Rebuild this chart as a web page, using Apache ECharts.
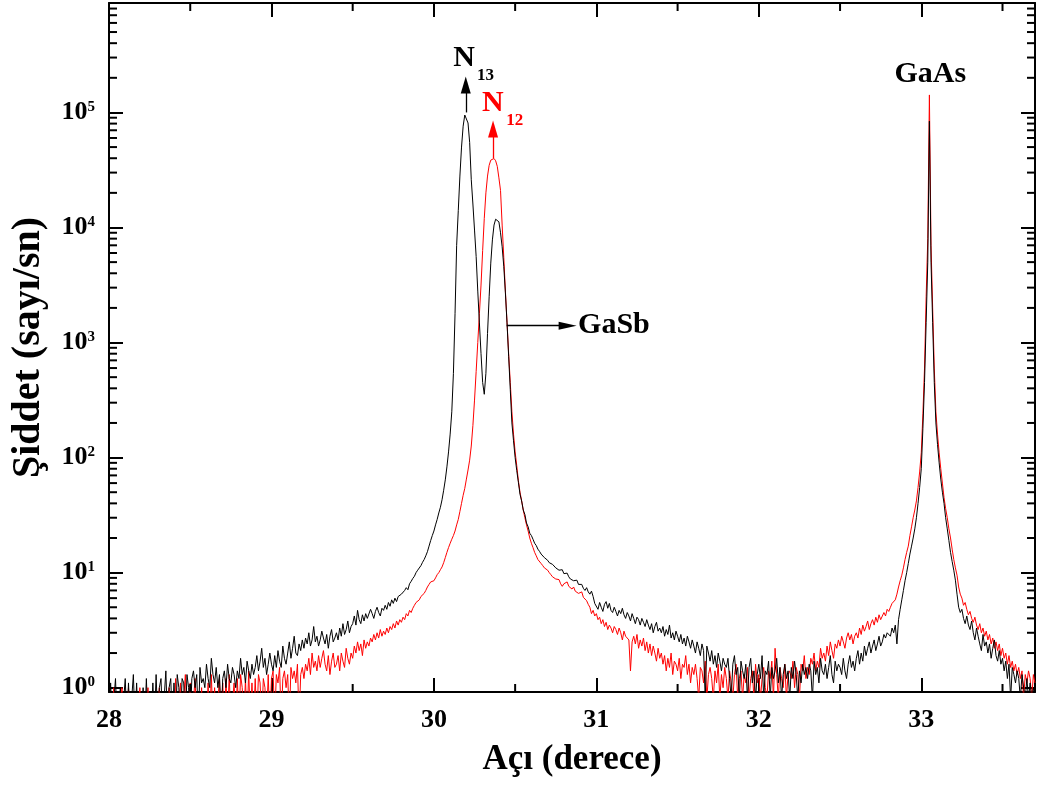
<!DOCTYPE html>
<html>
<head>
<meta charset="utf-8">
<script src="https://cdn.jsdelivr.net/npm/echarts@6/dist/echarts.min.js"></script>
<style>
html,body{margin:0;padding:0;background:#ffffff;}
#chart{width:1038px;height:787px;}
</style>
</head>
<body>
<div id="chart"></div>
<script>
// ---- data: angle grid (degrees) ----
const angleStart = 28.00;
const angleStep = 0.01;

// N13 sample (black), counts/s, one value per 0.01 deg from 28.00 to 33.70
const n13Counts = [
0.5,1.1,0.5,0.5,1.2,0.5,0.5,1.0,0.5,0.5,
1.2,0.5,1.1,0.5,0.5,1.3,0.5,1.1,0.5,0.5,
0.5,1.0,0.5,1.2,0.5,0.5,0.5,1.1,0.5,1.3,
0.5,1.0,1.2,0.5,0.5,1.4,0.5,1.0,1.2,0.5,
1.1,0.5,1.3,1.0,0.5,1.2,1.1,0.5,1.3,1.0,
0.5,1.2,1.4,1.0,1.3,0.5,1.5,1.1,1.2,1.0,
1.6,1.2,1.0,1.8,1.3,1.1,1.5,1.0,1.3,0.5,
1.2,1.4,1.0,1.6,1.2,1.1,1.5,1.3,1.0,1.4,
1.2,1.8,1.3,1.5,1.1,1.7,1.4,1.2,1.6,1.3,
1.5,1.9,1.4,1.7,2.2,1.5,1.8,1.3,1.6,2.0,
1.6,1.4,1.9,1.5,2.1,1.7,1.5,2.3,1.8,1.6,
2.0,2.5,1.8,2.2,2.8,2.0,1.9,2.4,2.1,2.6,
2.2,2.7,2.4,3.0,2.3,2.6,3.4,2.5,2.8,2.3,
2.6,3.1,2.7,2.4,2.9,2.2,2.8,3.2,2.5,2.7,
3.0,2.6,3.3,2.8,3.6,2.9,3.2,3.8,3.0,3.4,
3.6,4.2,3.5,4.7,3.9,3.6,4.3,3.8,4.4,4.0,
4.1,4.8,4.4,4.0,4.6,5.0,4.5,4.2,4.9,4.7,
5.2,4.8,5.5,5.1,5.8,5.4,6.0,5.6,6.2,6.0,
6.5,6.3,7.0,7.4,7.1,8.0,8.4,8.9,9.3,10.0,
10.5,10.8,11.5,12.3,13.0,14.0,15.2,17.0,19.0,21.0,
23,26,29,33,37,43,52,64,83,112,
160,250,540,1780,7000,14000,28000,50000,76000,95000,
98000,81000,55000,26000,16000,9500,5600,2800,1480,800,
450,355,540,1200,2500,4900,7800,10500,11800,12000,
11200,9000,6800,4600,2700,1480,760,390,200,140,
100,77,61,48,42,35,32,27,25,22,
21,19.5,18,17.2,16,15.3,14.5,14.2,13.5,13,
12.8,12.2,12.5,11.8,11.5,11.0,11.3,10.5,10.2,10.6,
9.8,9.5,9.9,9.2,8.8,9.1,8.5,8.2,8.6,7.9,
7.6,7.9,7.3,7.0,7.4,6.8,6.5,6.9,6.2,5.4,
5.2,4.8,5.5,5.0,4.6,5.3,5.6,4.9,5.4,4.7,
4.5,5.0,4.6,4.2,4.7,4.4,4.9,4.3,4.0,4.5,
4.2,3.8,4.4,4.0,3.6,4.1,3.9,3.5,4.0,3.7,
3.4,3.9,3.5,3.2,3.6,3.0,3.4,3.7,3.1,3.3,
3.0,3.4,2.8,3.2,2.9,3.5,2.7,3.0,2.6,3.1,
2.8,2.5,2.9,2.4,2.7,2.3,2.8,2.5,2.2,2.6,
2.3,2.0,2.5,2.2,1.9,2.4,2.1,0.8,2.3,2.0,
1.7,2.1,1.6,1.9,1.5,2.0,1.7,1.4,1.8,1.6,
1.5,1.8,1.2,0.8,1.6,1.9,1.3,1.5,0.8,1.7,
1.4,1.2,1.6,0.8,1.5,1.8,1.1,1.4,0.8,1.3,
1.6,1.2,1.9,0.8,1.4,1.3,1.7,0.8,1.5,1.2,
1.4,1.8,1.1,1.5,0.8,1.3,1.6,1.2,1.4,0.8,
1.5,1.2,1.7,1.3,0.8,1.4,1.1,1.6,1.3,1.5,
1.2,1.6,1.4,0.8,1.7,1.3,1.5,1.1,1.8,1.4,
1.3,1.6,1.2,1.5,1.9,1.3,1.1,1.7,1.4,1.6,
1.5,1.3,1.8,1.4,1.2,1.6,1.9,1.5,1.7,1.4,
1.8,2.1,1.6,2.0,1.7,2.3,1.9,2.2,2.5,2.0,
2.3,2.6,2.1,2.4,2.8,2.3,2.5,2.9,2.7,3.0,
3.1,2.8,3.3,3.0,3.5,2.4,3.9,4.8,5.8,7.0,
8.5,10,12,14.5,17,20,24,30,40,55,
80,180,450,1500,5000,84000,5000,1500,450,200,
130,90,65,50,40,30,24,19,15,12.5,
10.5,8.6,6.5,5.0,4.5,4.8,4.0,3.6,4.2,3.5,
3.2,3.8,3.0,2.6,3.3,2.8,2.4,2.1,2.9,2.3,
2.5,2.0,2.4,1.8,2.2,2.6,1.9,1.7,2.1,1.6,
1.8,1.4,1.7,1.2,1.6,0.8,1.5,1.3,1.1,1.4,
1.2,0.8,1.3,1.0,0.8,1.2,0.8,1.1,0.8,1.0,
0.8
];

// N12 sample (red)
const n12Counts = [
0.5,0.5,0.5,1.0,0.5,0.5,0.5,0.5,1.0,0.5,
0.5,0.5,1.0,0.5,0.5,0.5,0.5,0.5,0.5,1.0,
0.5,0.5,0.5,0.5,1.0,0.5,0.5,0.5,0.5,0.5,
0.5,1.0,0.5,0.5,0.5,0.5,0.5,1.0,0.5,0.5,
0.5,1.2,0.5,0.5,1.1,0.5,0.5,1.3,0.5,0.5,
1.1,0.5,0.5,1.2,0.5,0.5,0.5,1.0,0.5,0.5,
0.5,1.1,0.5,1.3,0.5,1.0,0.5,0.5,1.2,0.5,
1.1,0.5,1.2,0.5,1.3,0.5,0.5,1.1,0.5,1.2,
0.5,1.3,1.0,0.5,1.2,0.5,1.4,0.5,1.1,0.5,
1.2,0.5,1.3,1.1,0.5,1.2,1.0,0.5,1.3,0.5,
1.2,1.4,0.5,1.3,1.1,1.5,0.5,1.2,1.4,1.0,
1.3,0.5,1.5,1.2,1.4,1.1,1.6,0.5,1.3,1.5,
1.2,1.6,1.4,1.8,1.3,2.0,1.5,1.7,1.4,1.9,
1.5,1.8,2.1,1.6,1.4,1.9,1.3,1.7,2.0,1.5,
1.6,1.9,1.4,2.0,1.7,1.5,2.2,1.8,1.6,2.0,
1.8,2.3,2.0,2.5,2.1,2.4,1.9,2.6,2.2,2.5,
2.3,2.7,2.5,2.9,2.6,3.0,2.7,3.2,2.8,3.1,
2.9,3.3,3.0,3.4,3.2,3.6,3.3,3.8,3.5,3.9,
3.7,4.1,3.9,4.4,4.2,4.7,4.5,4.9,5.2,5.5,
5.3,5.8,6.2,6.0,6.6,7.0,7.5,7.9,8.3,8.0,
8.5,9.0,9.6,10.0,10.6,11.2,12.2,13.5,15.0,16.5,
18,19.5,21,23,26,29,34,40,47,54,
65,78,95,126,190,316,560,1000,1780,3160,
6300,12000,20000,28000,34700,38500,40000,39800,38000,34000,
27000,21000,10500,5500,2800,1500,800,450,250,160,
112,85,63,50,42,35,30,26,23,20,
18,16.5,15,14,13,12.5,12,11.5,11,10.8,
10.5,10.0,9.6,9.2,9.5,8.8,8.5,8.7,8.0,7.6,
8.0,7.8,8.3,7.6,7.9,7.2,7.5,6.9,7.0,6.6,
6.4,6.8,6.1,6.3,5.7,5.3,5.0,4.4,4.7,4.2,
4.4,3.9,4.1,3.6,3.9,3.4,3.7,3.2,3.5,3.3,
3.0,3.4,3.2,2.9,3.3,3.0,2.6,3.1,2.8,2.7,
2.6,1.4,2.5,2.8,2.4,2.9,2.2,2.6,2.3,2.7,
2.1,2.5,2.0,2.4,1.9,2.3,2.0,1.7,2.2,1.8,
2.0,1.6,1.9,1.4,1.8,1.5,2.0,1.3,1.7,1.6,
1.4,1.8,1.2,1.6,1.5,1.9,1.3,1.6,1.1,1.5,
1.3,1.6,1.2,0.8,1.5,1.4,1.1,1.7,0.8,1.3,
1.5,1.2,0.8,1.4,1.1,1.6,0.8,1.3,1.0,1.5,
1.2,0.8,1.4,1.1,0.8,1.3,1.6,0.8,1.2,1.4,
0.8,1.3,1.1,1.5,0.8,1.2,1.4,0.8,1.6,1.1,
1.3,0.8,1.2,1.5,1.0,0.8,1.4,1.2,1.7,0.8,
2.2,1.3,0.8,1.5,1.2,1.0,1.6,0.8,1.3,1.4,
1.2,1.7,1.0,1.5,1.3,0.8,1.6,1.4,1.9,1.2,
1.5,1.3,1.8,1.6,2.0,1.4,1.7,1.5,2.2,1.8,
2.0,1.7,2.3,1.9,2.5,2.1,1.8,2.4,2.2,2.6,
2.3,2.8,2.5,2.2,2.7,3.0,2.6,2.9,2.4,2.8,
3.0,2.7,3.3,2.9,3.5,3.1,3.4,3.8,3.2,3.6,
3.9,3.5,4.1,3.7,4.3,3.9,4.0,4.5,4.2,4.8,
4.6,5.0,5.4,5.2,5.8,6.5,7.5,8.5,9.5,11,
13,15,17,21,25,30,35,42,55,75,
110,240,600,2500,8000,142000,7000,2000,600,250,
160,110,80,60,45,36,30,24,20,16,
13,11,9.5,7.5,6.5,6.0,5.2,5.5,4.8,4.3,
4.6,4.0,3.7,4.1,3.5,3.2,3.6,3.0,3.3,2.8,
3.1,2.6,2.9,2.4,2.7,2.2,2.5,2.1,2.4,1.9,
2.2,1.8,2.0,1.6,1.9,1.5,1.7,1.4,1.6,1.3,
1.5,1.2,1.4,0.8,1.3,1.1,1.4,1.2,0.8,1.3,
1.1
];

// ---- axes ----
const xRange = [28, 33.7];
const xTickValues = [28, 29, 30, 31, 32, 33];
const xMinorTicks = [28.5, 29.5, 30.5, 31.5, 32.5, 33.5];
const yRange = [0.917, 8.94e5];
const yTickExponents = [0, 1, 2, 3, 4, 5];
const yMinorMantissas = [2, 3, 4, 5, 6, 7, 8, 9];

// ---- annotations (positions in data space) ----
const textLabels = [
  { text: 'N',    size: 30, color: '#000000', at: [30.185, 2.96e5] },
  { text: '13',   size: 17, color: '#000000', at: [30.317, 2.11e5] },
  { text: 'N',    size: 30, color: '#ff0000', at: [30.363, 1.20e5] },
  { text: '12',   size: 17, color: '#ff0000', at: [30.498, 8.47e4] },
  { text: 'GaAs', size: 30, color: '#000000', at: [33.055, 2.13e5] },
  { text: 'GaSb', size: 30, color: '#000000', at: [31.108, 1.40e3] }
];
const arrows = [
  { from: [30.196, 1.0e5], to: [30.196, 1.734e5], color: '#000000', head: [10, 17] },
  { from: [30.364, 4.0e4], to: [30.364, 7.19e4], color: '#ff0000', head: [10, 17] },
  { from: [30.448, 1.40e3], to: [30.823, 1.40e3], color: '#000000', head: [8, 18] }
];

const FONT = "'Liberation Serif', 'Times New Roman', serif";

function toPairs(arr) {
  return arr.map((v, i) => [+(angleStart + i * angleStep).toFixed(2), v]);
}

const yMinorValues = [];
yTickExponents.forEach(e => {
  yMinorMantissas.forEach(m => {
    const v = m * Math.pow(10, e);
    if (v < yRange[1]) yMinorValues.push(v);
  });
});
const minorTickData = yMinorValues.map(v => [xRange[0], v, 0])
  .concat(xMinorTicks.map(v => [v, 1, 1]));

function arrowLine(a) {
  return [
    { coord: a.from, symbol: 'none' },
    { coord: a.to, symbol: 'triangle', symbolSize: a.head }
  ];
}

const chart = echarts.init(document.getElementById('chart'), null, { renderer: 'canvas' });

const xAxisBase = {
  type: 'value', min: xRange[0], max: xRange[1], interval: 1,
  axisLine: { show: true, onZero: false, lineStyle: { color: '#000', width: 2 } },
  axisTick: { show: true, inside: true, length: 14, lineStyle: { color: '#000', width: 2 } },
  splitLine: { show: false }
};
const yAxisBase = {
  type: 'log', logBase: 10, min: yRange[0], max: yRange[1],
  axisLine: { show: true, onZero: false, lineStyle: { color: '#000', width: 2 } },
  axisTick: { show: true, inside: true, length: 14, lineStyle: { color: '#000', width: 2 } },
  splitLine: { show: false }
};

const option = {
  animation: false,
  backgroundColor: '#ffffff',
  grid: { left: 109, right: 3, top: 3, bottom: 95, containLabel: false },
  xAxis: [
    Object.assign({}, xAxisBase, {
      position: 'bottom',
      name: 'Açı (derece)', nameLocation: 'middle', nameGap: 50,
      nameTextStyle: { fontFamily: FONT, fontWeight: 'bold', fontSize: 35, color: '#000' },
      axisLabel: {
        show: true, margin: 15, color: '#000', fontFamily: FONT, fontWeight: 'bold', fontSize: 26,
        formatter: v => xTickValues.indexOf(Math.round(v * 1000) / 1000) >= 0 ? String(Math.round(v)) : ''
      }
    }),
    Object.assign({}, xAxisBase, { position: 'top', axisLabel: { show: false } })
  ],
  yAxis: [
    Object.assign({}, yAxisBase, {
      position: 'left',
      name: 'Şiddet (sayı/sn)', nameLocation: 'middle', nameGap: 60,
      nameTextStyle: { fontFamily: FONT, fontWeight: 'bold', fontSize: 40, color: '#000' },
      axisLabel: {
        show: true, margin: 14, color: '#000',
        formatter: v => {
          const lg = Math.log10(v);
          const e = Math.round(lg);
          return (Math.abs(lg - e) < 1e-6 && yTickExponents.indexOf(e) >= 0) ? '{b|10}{s|' + e + '}' : '';
        },
        rich: {
          b: { fontFamily: FONT, fontWeight: 'bold', fontSize: 26, lineHeight: 26, color: '#000', verticalAlign: 'bottom' },
          s: { fontFamily: FONT, fontWeight: 'bold', fontSize: 15, lineHeight: 15, color: '#000', verticalAlign: 'top' }
        }
      }
    }),
    Object.assign({}, yAxisBase, { position: 'right', axisLabel: { show: false } })
  ],
  series: [
    {
      name: 'N12', type: 'line', xAxisIndex: 0, yAxisIndex: 0,
      data: toPairs(n12Counts), showSymbol: false, symbol: 'none', sampling: null,
      lineStyle: { color: '#ff0000', width: 1 }, itemStyle: { color: '#ff0000' },
      clip: true, z: 2,
      markLine: {
        silent: true, animation: false, label: { show: false },
        lineStyle: { color: '#ff0000', width: 1.3, type: 'solid' },
        itemStyle: { color: '#ff0000' },
        data: [arrowLine(arrows[1])]
      }
    },
    {
      name: 'N13', type: 'line', xAxisIndex: 0, yAxisIndex: 0,
      data: toPairs(n13Counts), showSymbol: false, symbol: 'none', sampling: null,
      lineStyle: { color: '#000000', width: 1 }, itemStyle: { color: '#000000' },
      clip: true, z: 3,
      markLine: {
        silent: true, animation: false, label: { show: false },
        lineStyle: { color: '#000000', width: 1.3, type: 'solid' },
        itemStyle: { color: '#000000' },
        data: [arrowLine(arrows[0]), arrowLine(arrows[2])]
      }
    },
    {
      name: 'minorTicks', type: 'custom', xAxisIndex: 0, yAxisIndex: 0,
      dimensions: ['x', 'y', 'kind'], encode: { x: 0, y: 1 },
      data: minorTickData, silent: true, z: 5,
      renderItem: (params, api) => {
        const kind = api.value(2);
        const st = { stroke: '#000', lineWidth: 2 };
        if (kind === 0) {
          const v = api.value(1);
          const pL = api.coord([xRange[0], v]);
          const pR = api.coord([xRange[1], v]);
          return { type: 'group', children: [
            { type: 'line', shape: { x1: pL[0], y1: pL[1], x2: pL[0] + 8, y2: pL[1] }, style: st },
            { type: 'line', shape: { x1: pR[0] - 8, y1: pR[1], x2: pR[0], y2: pR[1] }, style: st }
          ] };
        }
        const v = api.value(0);
        const pB = api.coord([v, yRange[0]]);
        const pT = api.coord([v, yRange[1]]);
        return { type: 'group', children: [
          { type: 'line', shape: { x1: pB[0], y1: pB[1], x2: pB[0], y2: pB[1] - 8 }, style: st },
          { type: 'line', shape: { x1: pT[0], y1: pT[1], x2: pT[0], y2: pT[1] + 8 }, style: st }
        ] };
      }
    },
    {
      name: 'labels', type: 'scatter', xAxisIndex: 0, yAxisIndex: 0,
      symbolSize: 0, silent: true, z: 6,
      itemStyle: { color: 'transparent', opacity: 0 },
      emphasis: { disabled: true },
      data: textLabels.map(t => ({
        value: t.at,
        label: {
          show: true, position: 'inside', formatter: t.text, opacity: 1,
          fontFamily: FONT, fontWeight: 'bold', fontSize: t.size, color: t.color,
          textBorderWidth: 0, textBorderColor: 'transparent', textShadowBlur: 0
        }
      }))
    }
  ]
};

chart.setOption(option);
</script>
</body>
</html>
